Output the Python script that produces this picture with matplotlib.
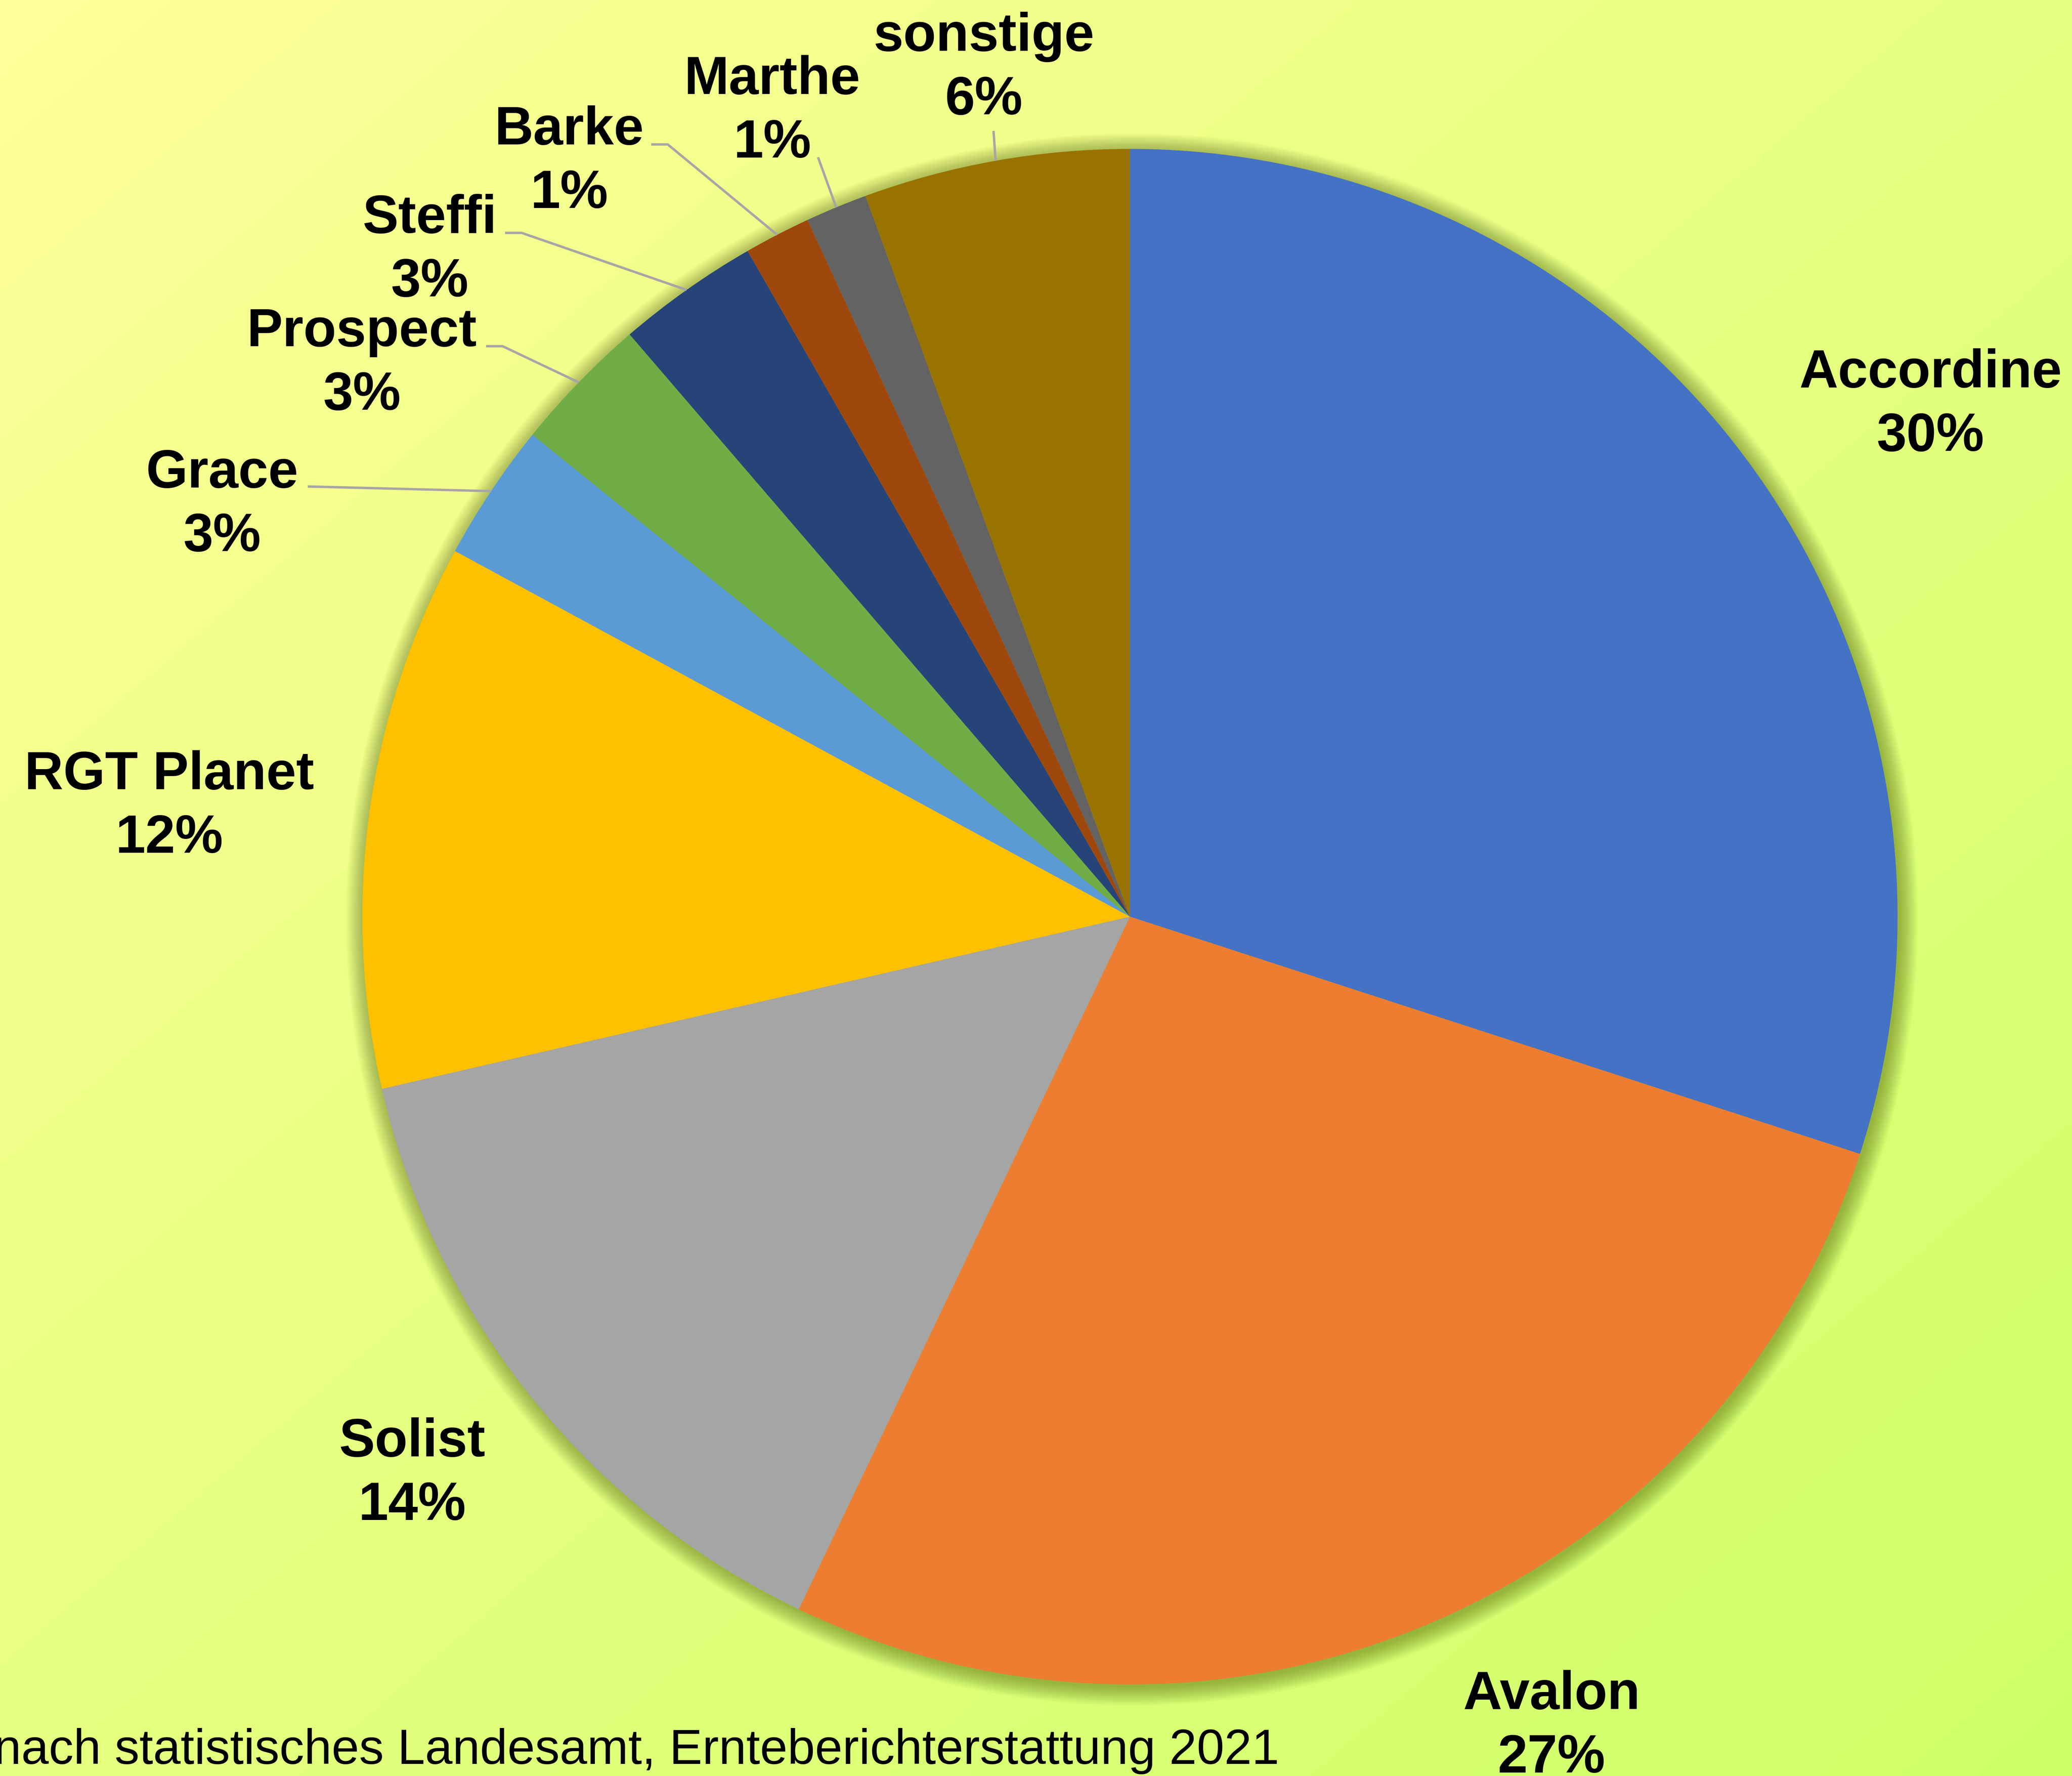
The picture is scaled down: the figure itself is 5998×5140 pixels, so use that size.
import numpy as np
import matplotlib.pyplot as plt
from matplotlib.patches import Circle

# Anbauanteile der Sommergerstensorten (Anteil in %)
sorten = ["Accordine", "Avalon", "Solist", "RGT Planet", "Grace",
          "Prospect", "Steffi", "Barke", "Marthe", "sonstige"]
anteile = [30.0, 27.1, 14.3, 11.5, 2.9, 2.9, 3.0, 1.4, 1.3, 5.6]
prozent_text = ["30%", "27%", "14%", "12%", "3%", "3%", "3%", "1%", "1%", "6%"]
farben = ["#4472C4", "#ED7D31", "#A5A5A5", "#FFC000", "#5B9BD5",
          "#70AD47", "#264478", "#9E480E", "#636363", "#997300"]
quelle = "nach statistisches Landesamt, Ernteberichterstattung 2021"

W, H = 5998, 5140
mitte = (3271, H - 2653)
radius = 2222
zeilenabstand = 184

# Label-Positionen (x, Grundlinie der ersten Zeile von oben) in Pixeln
label_pos = [(5588, 1121), (4491, 4946), (1193, 4215), (490, 2284),
             (643, 1411), (1048, 1002), (1244, 674), (1648, 418),
             (2236, 272), (2848, 147)]
# Führungslinien: Startpunkte am Label (None = keine Linie)
leader = [None, None, None, None,
          [(891, 1408)],
          [(1407, 1002), (1455, 1002)],
          [(1462, 674), (1510, 674)],
          [(1885, 418), (1933, 418)],
          [(2368, 455)],
          [(2876, 379)]]

plt.rcParams['font.family'] = ['Liberation Sans', 'DejaVu Sans']

fig = plt.figure(figsize=(W / 100, H / 100), dpi=100)
ax = fig.add_axes([0, 0, 1, 1])

# Hintergrund-Verlauf hellgelb (oben links) -> gelbgrün (unten rechts)
xx, yy = np.meshgrid(np.linspace(0, 1, 300), np.linspace(0, 1, 300))
t = (xx + yy) / 2
c0 = np.array([255, 255, 153]) / 255
c1 = np.array([206, 255, 104]) / 255
bg = c0[None, None, :] * (1 - t[..., None]) + c1[None, None, :] * t[..., None]
ax.imshow(bg, extent=(0, W, 0, H), origin='upper', zorder=0, aspect='auto')

# weicher Schatten um den Kreis
for d in range(0, 56, 2):
    ax.add_patch(Circle((mitte[0] + 6, mitte[1] - 8), radius + d,
                        color='#3a4a00', alpha=0.015, lw=0, zorder=0.5))

wedges, _ = ax.pie(anteile, colors=farben, startangle=90, counterclock=False,
                   radius=radius, center=mitte,
                   wedgeprops=dict(linewidth=0, zorder=1))

for i, w in enumerate(wedges):
    x, y = label_pos[i]
    ax.text(x, H - y, sorten[i], ha='center', va='baseline', fontsize=112,
            fontweight='bold', color='black', zorder=3)
    ax.text(x, H - y - zeilenabstand, prozent_text[i], ha='center',
            va='baseline', fontsize=112, fontweight='bold', color='black',
            zorder=3)
    if leader[i] is not None:
        mid = np.deg2rad((w.theta1 + w.theta2) / 2)
        px = [p[0] for p in leader[i]] + [mitte[0] + radius * np.cos(mid)]
        py = [H - p[1] for p in leader[i]] + [mitte[1] + radius * np.sin(mid)]
        ax.plot(px, py, color='#A6A6A6', lw=5, zorder=2,
                solid_capstyle='butt')

ax.text(-18, H - 5105, quelle, ha='left', va='baseline', fontsize=103,
        color='black', zorder=3)

ax.set_xlim(0, W)
ax.set_ylim(0, H)
ax.set_aspect('equal')
ax.axis('off')

plt.savefig("out.png", dpi=100)
